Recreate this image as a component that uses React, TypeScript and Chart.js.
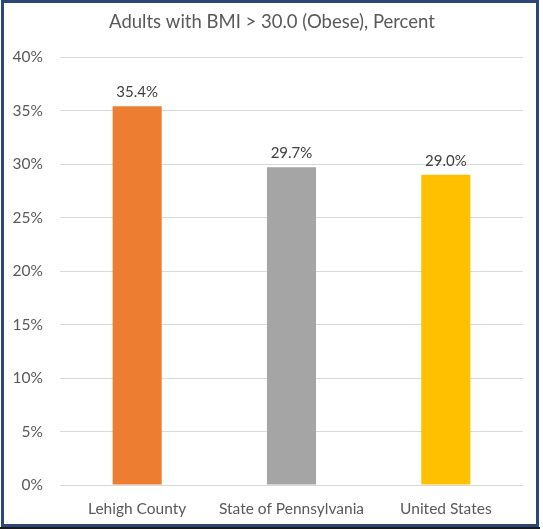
import React, { useEffect, useRef } from "react";
import { Chart, registerables } from "chart.js";

Chart.register(...registerables);

const categories: string[] = ["Lehigh County", "State of Pennsylvania", "United States"];
const values: number[] = [35.4, 29.7, 29.0];
const valueLabels: string[] = ["35.4%", "29.7%", "29.0%"];
const barColors: string[] = ["#ED7D31", "#A5A5A5", "#FFC000"];
const titleText = "Adults with BMI > 30.0 (Obese), Percent";
const yMin = 0;
const yMax = 40;
const yStep = 5;

const FONT = "Lato, 'Open Sans', sans-serif";

const dataLabelPlugin = {
  id: "dataLabels",
  afterDatasetsDraw(chart: any) {
    const ctx = chart.ctx;
    const meta = chart.getDatasetMeta(0);
    ctx.save();
    ctx.font = `15px ${FONT}`;
    ctx.fillStyle = "#404040";
    ctx.textAlign = "center";
    ctx.textBaseline = "middle";
    meta.data.forEach((bar: any, i: number) => {
      ctx.fillText(valueLabels[i], bar.x, bar.y - 14);
    });
    ctx.restore();
  },
};

const titlePlugin = {
  id: "centeredTitle",
  afterDraw(chart: any) {
    const ctx = chart.ctx;
    ctx.save();
    ctx.font = `18.5px ${FONT}`;
    ctx.fillStyle = "#595959";
    ctx.textAlign = "center";
    ctx.textBaseline = "middle";
    ctx.fillText(titleText, 272, 22);
    ctx.restore();
  },
};

export default function App() {
  const canvasRef = useRef<HTMLCanvasElement | null>(null);

  useEffect(() => {
    document.body.style.margin = "0";
    const canvas = canvasRef.current;
    if (!canvas) return;
    const chart = new Chart(canvas, {
      type: "bar",
      data: {
        labels: categories,
        datasets: [
          {
            data: values,
            backgroundColor: barColors,
            borderWidth: 0,
            barPercentage: 0.318,
            categoryPercentage: 1,
          },
        ],
      },
      options: {
        animation: false,
        responsive: false,
        maintainAspectRatio: false,
        events: [],
        layout: { padding: { left: 8, right: 20, top: 57, bottom: 0 } },
        plugins: {
          legend: { display: false },
          tooltip: { enabled: false },
          title: { display: false },
        },
        scales: {
          x: {
            grid: { display: false, drawTicks: false },
            border: { display: false },
            ticks: {
              color: "#595959",
              font: { family: FONT, size: 15.5 },
              padding: 15,
            },
            afterFit(scale: any) {
              scale.height = 44;
            },
          },
          y: {
            min: yMin,
            max: yMax,
            grid: { color: "#D9D9D9", drawTicks: false, lineWidth: 1 },
            border: { display: false },
            ticks: {
              stepSize: yStep,
              color: "#595959",
              font: { family: FONT, size: 15.5 },
              padding: 17,
              callback: (v: any) => `${v}%`,
            },
            afterFit(scale: any) {
              scale.width = 52;
            },
          },
        },
      },
      plugins: [dataLabelPlugin, titlePlugin],
    });
    return () => chart.destroy();
  }, []);

  return (
    <div style={{ position: "relative", width: 543, height: 529, background: "#fff" }}>
      <canvas
        ref={canvasRef}
        width={543}
        height={529}
        style={{ position: "absolute", left: 0, top: 0, width: 543, height: 529 }}
      />
      <div
        style={{
          position: "absolute",
          left: 1,
          top: 0,
          width: 538,
          height: 527,
          boxSizing: "border-box",
          border: "3px solid #2B4677",
          pointerEvents: "none",
        }}
      />
      <div
        style={{
          position: "absolute",
          left: 0,
          top: 527,
          width: 540,
          height: 2,
          background: "#1a1a1a",
          pointerEvents: "none",
        }}
      />
    </div>
  );
}
